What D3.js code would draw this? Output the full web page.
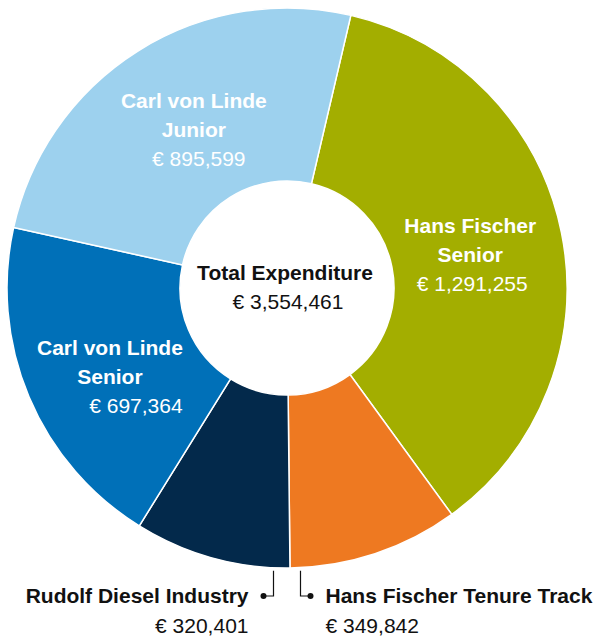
<!DOCTYPE html>
<html>
<head>
<meta charset="utf-8">
<script src="https://cdn.jsdelivr.net/npm/d3@7"></script>
<style>
  body { margin: 0; background: #fff; }
  svg text { font-family: "Helvetica Neue", Helvetica, "Liberation Sans", Arial, sans-serif; }
</style>
</head>
<body>
<div id="chart"></div>
<script>
// data, clockwise from the top
var names = ["Hans Fischer Senior", "Hans Fischer Tenure Track", "Rudolf Diesel Industry", "Carl von Linde Senior", "Carl von Linde Junior"];
var values = [1291255, 349842, 320401, 697364, 895599];
var colors = ["#a3ae00", "#ee7921", "#03294b", "#0070b8", "#9dd1ee"];
var totalLabel = "Total Expenditure";

var width = 597, height = 636;
var cx = 287, cy = 288, outerR = 280, innerR = 107;

// which slices get an outside label (small ones)
var outside = [false, true, true, false, false];
// small hand nudges for inside labels [dx, dy, value dx]
var nudge = [[-3, 4, 2], [0, 0, 0], [0, 0, 0], [-2, 15, 26], [8, 2, 5]];

var fmt = function(v) { return "\u20ac " + d3.format(",")(v); };

var data = names.map(function(n, i) { return {name: n, value: values[i], i: i}; });

var svg = d3.select("#chart").append("svg")
  .attr("width", width)
  .attr("height", height);

var g = svg.append("g").attr("transform", "translate(" + cx + "," + cy + ")");

var startA = 0.23;
var pie = d3.pie()
  .sort(null)
  .startAngle(startA)
  .endAngle(startA + 2 * Math.PI)
  .value(function(d) { return d.value; });

var arc = d3.arc().innerRadius(innerR).outerRadius(outerR);
var labelArc = d3.arc().innerRadius(190).outerRadius(190);

var arcs = pie(data);

g.selectAll("path.slice")
  .data(arcs)
  .enter().append("path")
    .attr("class", "slice")
    .attr("d", arc)
    .attr("fill", function(d) { return colors[d.data.i]; })
    .attr("stroke", "#fff")
    .attr("stroke-width", 1.5);

// inside labels
var inside = g.selectAll("g.inlabel")
  .data(arcs.filter(function(d) { return !outside[d.data.i]; }))
  .enter().append("g")
    .attr("class", "inlabel")
    .attr("transform", function(d) {
      var c = labelArc.centroid(d);
      var n = nudge[d.data.i];
      return "translate(" + (c[0] + n[0]) + "," + (c[1] + n[1]) + ")";
    });

inside.each(function(d) {
  var self = d3.select(this);
  var name = d.data.name;
  var cut = name.lastIndexOf(" ");
  var lines = [name.slice(0, cut), name.slice(cut + 1)];
  lines.forEach(function(l, k) {
    self.append("text")
      .attr("text-anchor", "middle")
      .attr("y", (k - 1) * 29)
      .attr("dy", "0.35em")
      .attr("fill", "#fff")
      .attr("font-weight", "bold")
      .attr("font-size", 21)
      .text(l);
  });
  self.append("text")
    .attr("text-anchor", "middle")
    .attr("x", nudge[d.data.i][2])
    .attr("y", 29)
    .attr("dy", "0.35em")
    .attr("fill", "#fff")
    .attr("font-size", 21)
    .text(fmt(d.data.value));
});

// outside labels with leader lines, hanging off the bottom
var outArcs = arcs.filter(function(d) { return outside[d.data.i]; });
outArcs.forEach(function(d) {
  var mid = (d.startAngle + d.endAngle) / 2;
  var side = Math.sin(mid) < 0 ? -1 : 1; // left or right of the bottom
  var lx = side * 13.5;
  var ly0 = Math.sqrt(outerR * outerR - lx * lx) + 3;
  var ly1 = 308;
  var dotX = lx + side * 10;
  g.append("path")
    .attr("d", "M" + lx + "," + ly0 + "V" + ly1 + "H" + dotX)
    .attr("fill", "none")
    .attr("stroke", "#111")
    .attr("stroke-width", 1.2);
  g.append("circle")
    .attr("cx", dotX)
    .attr("cy", ly1)
    .attr("r", 3)
    .attr("fill", "#111");
  var tx = dotX + side * 15;
  var anchor = side < 0 ? "end" : "start";
  g.append("text")
    .attr("x", tx)
    .attr("y", ly1)
    .attr("dy", "0.35em")
    .attr("text-anchor", anchor)
    .attr("font-weight", "bold")
    .attr("font-size", 21)
    .attr("fill", "#111")
    .text(d.data.name);
  g.append("text")
    .attr("x", tx)
    .attr("y", ly1 + 30)
    .attr("dy", "0.35em")
    .attr("text-anchor", anchor)
    .attr("font-size", 21)
    .attr("fill", "#111")
    .text(fmt(d.data.value));
});

// centre total
var total = d3.sum(values);
g.append("text")
  .attr("text-anchor", "middle")
  .attr("x", -2)
  .attr("y", -15)
  .attr("dy", "0.35em")
  .attr("font-weight", "bold")
  .attr("font-size", 21)
  .attr("fill", "#111")
  .text(totalLabel);
g.append("text")
  .attr("text-anchor", "middle")
  .attr("x", 1)
  .attr("y", 14)
  .attr("dy", "0.35em")
  .attr("font-size", 21)
  .attr("fill", "#111")
  .text(fmt(total));
</script>
</body>
</html>
